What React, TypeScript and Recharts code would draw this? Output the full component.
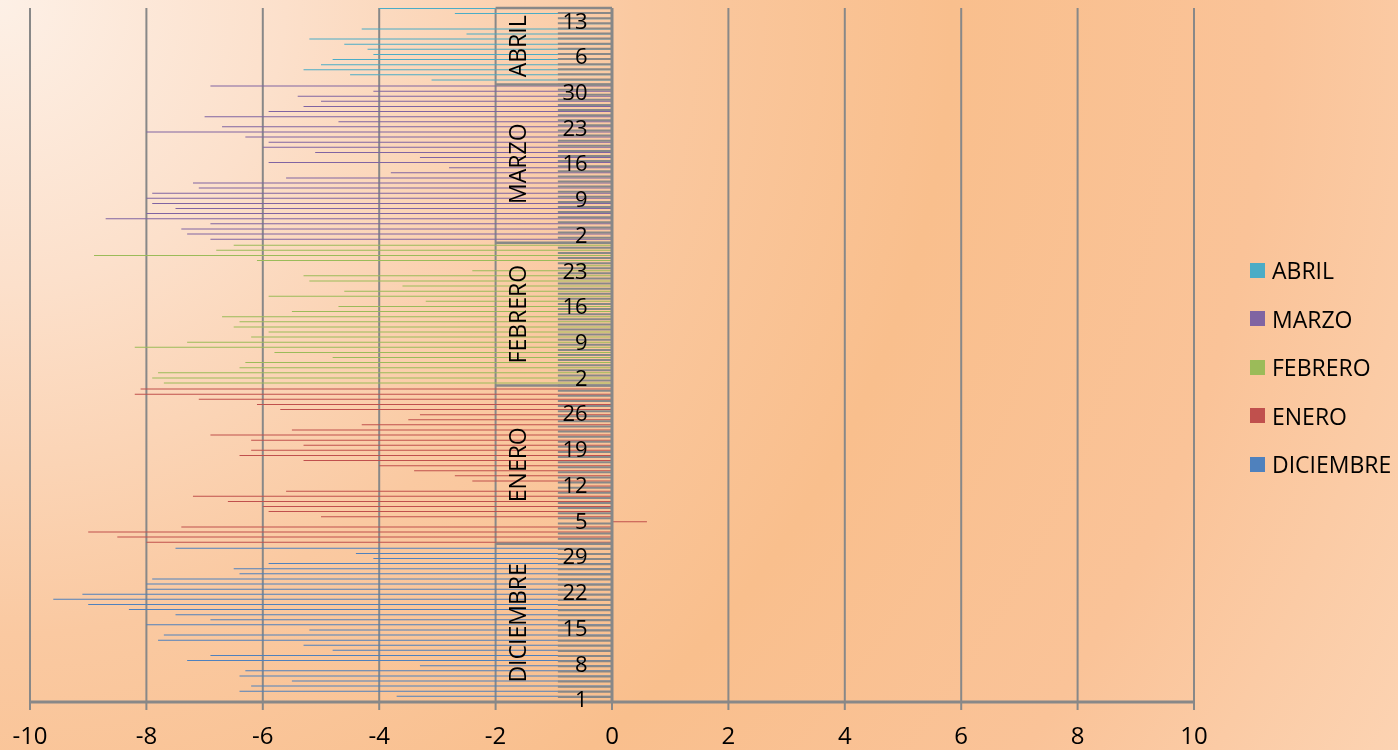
import { BarChart, Bar, XAxis, YAxis, CartesianGrid, ReferenceLine, ReferenceArea } from "recharts";

const MONTHS = ["DICIEMBRE", "ENERO", "FEBRERO", "MARZO", "ABRIL"];
const COLORS = ["#4F81BD", "#C0504D", "#9BBB59", "#8064A2", "#4BACC6"];

// one value per day (Dec 1 has no visible bar)
const diciembre = [null, -3.7, -6.4, -6.2, -5.5, -6.4, -6.3, -3.3, -7.3, -6.9, -4.8, -5.3, -7.8, -7.7, -5.2, -8.0,
    -6.9, -7.5, -8.3, -9.0, -9.6, -9.1, -8.0, -8.0, -7.9, -6.4, -6.5, -5.9, -4.1, -4.4, -7.5];
const enero = [-8.0, -8.5, -9.0, -7.4, 0.6, -5.0, -5.9, -6.0, -6.6, -7.2, -5.6, -0.5, -2.4, -2.7, -3.4, -4.0,
    -5.3, -6.4, -6.2, -5.3, -6.2, -6.9, -5.5, -4.3, -3.5, -3.3, -5.7, -6.1, -7.1, -8.2, -8.1];
const febrero = [-7.7, -7.9, -7.8, -6.4, -6.3, -4.8, -5.8, -8.2, -7.3, -6.2, -5.9, -6.5, -6.4, -6.7, -5.5, -4.7,
    -3.2, -5.9, -4.6, -3.6, -5.2, -5.3, -2.4, -0.6, -6.1, -8.9, -6.8, -6.5];
const marzo = [-6.9, -7.3, -7.4, -6.9, -8.7, -8.0, -7.5, -7.9, -8.0, -7.9, -7.1, -7.2, -5.6, -3.8, -2.8, -5.9,
    -3.3, -5.1, -6.0, -5.9, -6.3, -8.0, -6.7, -4.7, -7.0, -5.9, -5.3, -5.0, -5.4, -4.1, -6.9];
const abril = [-3.1, -4.5, -5.3, -5.0, -4.8, -4.1, -4.2, -4.6, -5.2, -2.5, -4.3, -0.6, -0.5, -2.7, -4.0];

const SERIES = [diciembre, enero, febrero, marzo, abril];
const X_TICKS = [-10, -8, -6, -4, -2, 0, 2, 4, 6, 8, 10];
const LABEL_EVERY = 7;

const FONT = "'Open Sans', sans-serif";
const GRID = "#888888";

type Row = { key: string; day: number; month: number; [k: string]: any };

const rows: Row[] = [];
SERIES.forEach((vals, m) => {
    vals.forEach((v, i) => {
        const row: Row = { key: `${m}-${i + 1}`, day: i + 1, month: m };
        row[MONTHS[m]] = v;
        rows.push(row);
    });
});

const Legend = () => (
    <div style={{ position: "absolute", left: 1250, top: 246, fontFamily: FONT, fontSize: 23, color: "#000" }}>
        {MONTHS.map((m, i) => ({ m, c: COLORS[i] })).reverse().map(({ m, c }) => (
            <div key={m} style={{ display: "flex", alignItems: "center", height: 48.5 }}>
                <span style={{ width: 15, height: 15, background: c, marginRight: 7, display: "inline-block" }} />
                <span style={{ lineHeight: "24px" }}>{m}</span>
            </div>
        ))}
    </div>
);

const App = () => {
    return (
        <div
            style={{
                position: "fixed",
                left: 0,
                top: 0,
                width: 1398,
                height: 750,
                overflow: "hidden",
                background:
                    "radial-gradient(circle farthest-corner at 0% 0%, #fdf0e6 0%, #fce0cb 18%, #fac9a1 40%, #f9bf8d 60%, #fac398 80%, #fcd3b2 100%)",
            }}
        >
            <BarChart
                width={1398}
                height={750}
                data={rows}
                layout="vertical"
                margin={{ top: 8, right: 204, bottom: 0, left: 30 }}
                barGap={0}
                barSize={1}
            >
                <CartesianGrid horizontal={false} stroke={GRID} strokeWidth={2} />
                <XAxis
                    type="number"
                    domain={[-10, 10]}
                    ticks={X_TICKS}
                    interval={0}
                    height={48}
                    axisLine={{ stroke: GRID, strokeWidth: 3 }}
                    tickLine={{ stroke: GRID, strokeWidth: 2 }}
                    tickSize={8}
                    tickMargin={17}
                    tick={{ fill: "#000", fontSize: 24, fontFamily: FONT }}
                />
                <YAxis type="category" dataKey="key" reversed hide />

                {/* Excel draws the first series at the bottom of each band */}
                {MONTHS.map((m, i) => ({ m, c: COLORS[i] })).reverse().map(({ m, c }) => (
                    <Bar key={m} dataKey={m} fill={c} isAnimationActive={false} />
                ))}

                {/* category tick marks between days */}
                {rows.map((r) => (
                    <ReferenceLine
                        key={`t-${r.key}`}
                        segment={[{ x: -0.93, y: r.key }, { x: 0, y: r.key }]}
                        position="start"
                        stroke={GRID}
                        strokeWidth={2}
                        ifOverflow="visible"
                    />
                ))}

                {/* month separators */}
                {SERIES.map((vals, m) => (
                    <ReferenceLine
                        key={`s-${m}`}
                        segment={[{ x: -2, y: `${m}-${vals.length}` }, { x: 0, y: `${m}-${vals.length}` }]}
                        position="start"
                        stroke={GRID}
                        strokeWidth={2.5}
                        ifOverflow="visible"
                    />
                ))}

                {/* month names */}
                {SERIES.map((vals, m) => (
                    <ReferenceArea
                        key={`a-${m}`}
                        x1={-2}
                        x2={-1.25}
                        y1={`${m}-1`}
                        y2={`${m}-${vals.length}`}
                        fill="none"
                        stroke="none"
                        ifOverflow="visible"
                        label={{ value: MONTHS[m], position: "center", angle: -90, fill: "#000", fontSize: 23, fontFamily: FONT }}
                    />
                ))}

                {/* day labels */}
                {rows
                    .filter((_, i) => i % LABEL_EVERY === 0)
                    .map((r) => (
                        <ReferenceLine
                            key={`d-${r.key}`}
                            segment={[{ x: -0.42, y: r.key }, { x: 0, y: r.key }]}
                            position="middle"
                            stroke="none"
                            ifOverflow="visible"
                            label={{ value: String(r.day), position: "left", offset: 0, fill: "#000", fontSize: 22, fontFamily: FONT }}
                        />
                    ))}

                <ReferenceLine x={0} stroke={GRID} strokeWidth={3} />
            </BarChart>
            <Legend />
        </div>
    );
};

export default App;
